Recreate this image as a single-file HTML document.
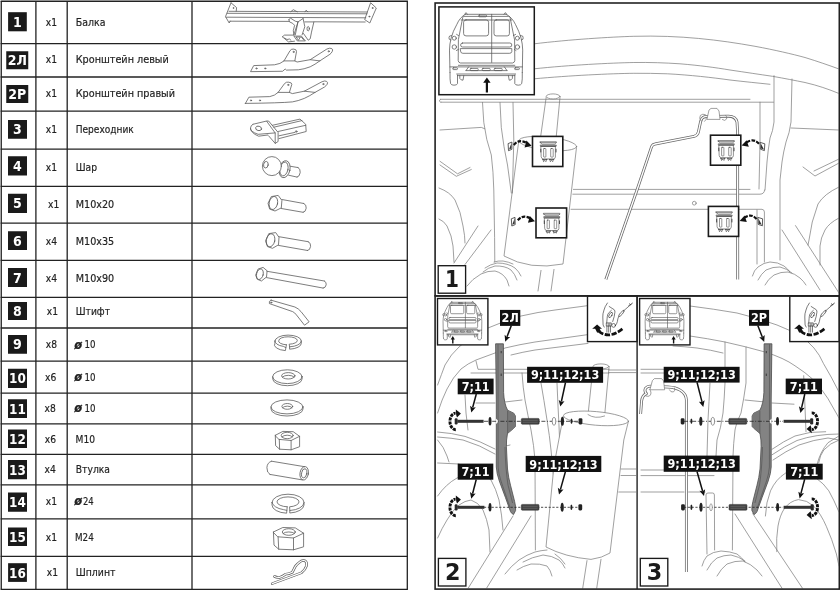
<!DOCTYPE html>
<html lang="ru"><head><meta charset="utf-8"><title>Комплектация и схема установки</title>
<style>
html,body{margin:0;padding:0;background:#fff}
svg{display:block;will-change:transform}
.tx text{font-family:"DejaVu Sans Condensed","DejaVu Sans","Liberation Sans",sans-serif;font-size:11.2px;fill:#222;stroke:#222;stroke-width:0.18px}
.tx .dia{font-family:"DejaVu Sans","Liberation Sans",sans-serif;font-weight:bold;font-style:italic;font-size:11.5px}
.bd text{font-family:"DejaVu Sans Condensed","DejaVu Sans","Liberation Sans",sans-serif;font-weight:bold;font-size:14px;fill:#fff;text-anchor:middle}
.lb text{font-family:"DejaVu Sans Condensed","DejaVu Sans","Liberation Sans",sans-serif;font-weight:bold;font-size:12.5px;fill:#fff;text-anchor:middle}
.num text{font-family:"DejaVu Sans","Liberation Sans",sans-serif;font-weight:bold;fill:#1a1a1a;text-anchor:middle}
.num text.cn{font-family:"DejaVu Sans Condensed","DejaVu Sans","Liberation Sans",sans-serif}
</style></head><body>
<svg width="840" height="591" viewBox="0 0 840 591">
<rect width="840" height="591" fill="#fff"/>
<g stroke="#222" stroke-width="1.3" fill="none" shape-rendering="auto">
<line x1="0.65" y1="1.25" x2="407.9" y2="1.25"/>
<line x1="0.65" y1="43.6" x2="407.9" y2="43.6"/>
<line x1="0.65" y1="77" x2="407.9" y2="77"/>
<line x1="0.65" y1="111.1" x2="407.9" y2="111.1"/>
<line x1="0.65" y1="149.2" x2="407.9" y2="149.2"/>
<line x1="0.65" y1="186.3" x2="407.9" y2="186.3"/>
<line x1="0.65" y1="223.1" x2="407.9" y2="223.1"/>
<line x1="0.65" y1="260.4" x2="407.9" y2="260.4"/>
<line x1="0.65" y1="297.3" x2="407.9" y2="297.3"/>
<line x1="0.65" y1="328" x2="407.9" y2="328"/>
<line x1="0.65" y1="361.2" x2="407.9" y2="361.2"/>
<line x1="0.65" y1="393.1" x2="407.9" y2="393.1"/>
<line x1="0.65" y1="423.9" x2="407.9" y2="423.9"/>
<line x1="0.65" y1="454.3" x2="407.9" y2="454.3"/>
<line x1="0.65" y1="484.8" x2="407.9" y2="484.8"/>
<line x1="0.65" y1="518.9" x2="407.9" y2="518.9"/>
<line x1="0.65" y1="556.4" x2="407.9" y2="556.4"/>
<line x1="0.65" y1="589.4" x2="407.9" y2="589.4"/>
<line x1="1.25" y1="1.25" x2="1.25" y2="589.4"/>
<line x1="35.9" y1="1.25" x2="35.9" y2="589.4"/>
<line x1="67.2" y1="1.25" x2="67.2" y2="589.4"/>
<line x1="192" y1="1.25" x2="192" y2="589.4"/>
<line x1="407.3" y1="1.25" x2="407.3" y2="589.4"/>
</g>
<g class="bd">
<rect x="8.1" y="12.2" width="18.7" height="19.1" fill="#1a1a1a"/>
<text x="17.45" y="26.85">1</text>
<rect x="6.25" y="51.25" width="22" height="18" fill="#1a1a1a"/>
<text x="17.25" y="65.35">2Л</text>
<rect x="6.25" y="85" width="22" height="18" fill="#1a1a1a"/>
<text x="17.25" y="99.1">2Р</text>
<rect x="8" y="120" width="19" height="18.75" fill="#1a1a1a"/>
<text x="17.5" y="134.475">3</text>
<rect x="8" y="156.25" width="19" height="19.25" fill="#1a1a1a"/>
<text x="17.5" y="170.975">4</text>
<rect x="8" y="193.75" width="19" height="19.25" fill="#1a1a1a"/>
<text x="17.5" y="208.475">5</text>
<rect x="8" y="231.25" width="19" height="18.75" fill="#1a1a1a"/>
<text x="17.5" y="245.725">6</text>
<rect x="8" y="268" width="19" height="19" fill="#1a1a1a"/>
<text x="17.5" y="282.6">7</text>
<rect x="8" y="302" width="19" height="18" fill="#1a1a1a"/>
<text x="17.5" y="316.1">8</text>
<rect x="8" y="335" width="19" height="18.75" fill="#1a1a1a"/>
<text x="17.5" y="349.475">9</text>
<rect x="8" y="368.75" width="19" height="19.25" fill="#1a1a1a"/>
<text x="17.5" y="383.475" textLength="16.8" lengthAdjust="spacingAndGlyphs">10</text>
<rect x="8" y="399.25" width="19" height="18.75" fill="#1a1a1a"/>
<text x="17.5" y="413.725" textLength="16.8" lengthAdjust="spacingAndGlyphs">11</text>
<rect x="8" y="429.5" width="19" height="18.5" fill="#1a1a1a"/>
<text x="17.5" y="443.85" textLength="16.8" lengthAdjust="spacingAndGlyphs">12</text>
<rect x="8" y="460" width="19" height="19.25" fill="#1a1a1a"/>
<text x="17.5" y="474.725" textLength="16.8" lengthAdjust="spacingAndGlyphs">13</text>
<rect x="8" y="492.5" width="19" height="19.25" fill="#1a1a1a"/>
<text x="17.5" y="507.225" textLength="16.8" lengthAdjust="spacingAndGlyphs">14</text>
<rect x="8" y="527.5" width="19" height="18.5" fill="#1a1a1a"/>
<text x="17.5" y="541.85" textLength="16.8" lengthAdjust="spacingAndGlyphs">15</text>
<rect x="8.1" y="563.2" width="18.8" height="18.7" fill="#1a1a1a"/>
<text x="17.5" y="577.65" textLength="16.8" lengthAdjust="spacingAndGlyphs">16</text>
</g>
<g class="tx">
<text x="45.75" y="25.75" textLength="11.25" lengthAdjust="spacingAndGlyphs">x1</text>
<text x="75.75" y="25.75" textLength="29.75" lengthAdjust="spacingAndGlyphs">Балка</text>
<text x="45.75" y="63.25" textLength="11.25" lengthAdjust="spacingAndGlyphs">x1</text>
<text x="75.75" y="63.25" textLength="93" lengthAdjust="spacingAndGlyphs">Кронштейн левый</text>
<text x="45.75" y="97" textLength="11.25" lengthAdjust="spacingAndGlyphs">x1</text>
<text x="75.75" y="97" textLength="99.25" lengthAdjust="spacingAndGlyphs">Кронштейн правый</text>
<text x="45.75" y="133.25" textLength="11.25" lengthAdjust="spacingAndGlyphs">x1</text>
<text x="75.75" y="133.25" textLength="58" lengthAdjust="spacingAndGlyphs">Переходник</text>
<text x="45.75" y="170.5" textLength="11.25" lengthAdjust="spacingAndGlyphs">x1</text>
<text x="75.75" y="170.5" textLength="21.25" lengthAdjust="spacingAndGlyphs">Шар</text>
<text x="48" y="208.25" textLength="11.25" lengthAdjust="spacingAndGlyphs">x1</text>
<text x="75.75" y="208.25" textLength="38.5" lengthAdjust="spacingAndGlyphs">M10x20</text>
<text x="45.75" y="245" textLength="11.25" lengthAdjust="spacingAndGlyphs">x4</text>
<text x="75.75" y="245" textLength="38.5" lengthAdjust="spacingAndGlyphs">M10x35</text>
<text x="45.75" y="281.75" textLength="11.25" lengthAdjust="spacingAndGlyphs">x4</text>
<text x="75.75" y="281.75" textLength="38.5" lengthAdjust="spacingAndGlyphs">M10x90</text>
<text x="46.75" y="314.8" textLength="11.25" lengthAdjust="spacingAndGlyphs">x1</text>
<text x="75.75" y="314.8" textLength="34.25" lengthAdjust="spacingAndGlyphs">Штифт</text>
<text x="45.75" y="348.3" textLength="11.25" lengthAdjust="spacingAndGlyphs">x8</text>
<text x="74.25" y="348.6" class="dia">ø</text><text x="84.5" y="348.3" textLength="11" lengthAdjust="spacingAndGlyphs">10</text>
<text x="45" y="380.7" textLength="11.25" lengthAdjust="spacingAndGlyphs">x6</text>
<text x="74.25" y="381" class="dia">ø</text><text x="84.5" y="380.7" textLength="11" lengthAdjust="spacingAndGlyphs">10</text>
<text x="44.5" y="411.9" textLength="11.25" lengthAdjust="spacingAndGlyphs">x8</text>
<text x="74.25" y="412.2" class="dia">ø</text><text x="84.5" y="411.9" textLength="11" lengthAdjust="spacingAndGlyphs">10</text>
<text x="44.8" y="442.7" textLength="11.25" lengthAdjust="spacingAndGlyphs">x6</text>
<text x="75.5" y="442.7" textLength="19.5" lengthAdjust="spacingAndGlyphs">M10</text>
<text x="44.5" y="472.5" textLength="11.25" lengthAdjust="spacingAndGlyphs">x4</text>
<text x="75.75" y="472.5" textLength="34.25" lengthAdjust="spacingAndGlyphs">Втулка</text>
<text x="45.75" y="504.75" textLength="11.25" lengthAdjust="spacingAndGlyphs">x1</text>
<text x="74.25" y="505.05" class="dia">ø</text><text x="83" y="504.75" textLength="10.75" lengthAdjust="spacingAndGlyphs">24</text>
<text x="45.75" y="541.25" textLength="11.25" lengthAdjust="spacingAndGlyphs">x1</text>
<text x="75" y="541.25" textLength="18.75" lengthAdjust="spacingAndGlyphs">M24</text>
<text x="46.75" y="576.25" textLength="11.25" lengthAdjust="spacingAndGlyphs">x1</text>
<text x="75.75" y="576.25" textLength="39.75" lengthAdjust="spacingAndGlyphs">Шплинт</text>
</g>
<!-- 10_icons.svg -->
<g id="icons" fill="none" stroke="#5c5c5c" stroke-width="0.8" stroke-linejoin="round" stroke-linecap="round">
<!-- 1 beam -->
<path d="M231 2.8 L236.6 7.6 L236.2 11.2 M231 2.8 L225.5 16.6 L229.2 23 L230.2 21.2 M229 11.3 L367.3 12 M227.3 13.3 L367 13.8 M226 17.2 L365.8 17.8 M229.8 21.2 L289 21.4 M314 21.8 L365.2 22"/>
<path d="M370.9 3 L376.3 8 L369.8 23 L365 19.8 Z"/>
<circle cx="372.5" cy="8" r="0.5"/><circle cx="369.3" cy="16.6" r="0.5"/><circle cx="233.3" cy="8" r="0.4"/>
<path d="M290.9 11.6 L293.3 9.7 L297.3 11.8 M305.1 11.8 L306.1 10.2 L307.8 11.8"/>
<path d="M288.9 19.5 L290.6 18.2 L295.3 21.2 L298 21.9 L293.9 34.8 M288.9 19.5 L289.5 21.9 L292.6 23.3 L294.6 25.3 L293.3 30.7 L293.9 34.8"/>
<path d="M298 21.9 L295.3 34.8 M303.1 18.5 L304.8 26.7 L302.1 34.8 M298 21.9 L303.1 18.5"/>
<path d="M294.3 36.1 L301.4 36.1 L305.4 40.9 L297.7 40.9 Z M296.6 37 L300.4 37 L298.6 40 Z M301.2 37 L303.8 40"/>
<path d="M304.8 21.9 L313.9 21.9 L311.5 32.1 L310.2 38.8 L308.2 40.2 L303.4 33.4"/>
<ellipse cx="308.2" cy="28.7" rx="1.2" ry="2.2"/>
<path d="M282.4 36.8 L284.5 35.1 L293.9 35.1 M282.4 36.8 L288.5 41.9 L294.5 41.2 M284.5 38 L287 39.5 L289.5 39 L291 40.3"/>
<!-- 2L bracket -->
<path d="M250.7 71.3 L253.7 65.6 L274.5 64.8 Q280.5 64 284 60.9 L290 50.7 Q291.5 48.6 293.8 49.1 Q296.8 49.4 296.5 51.6 L294.8 60.9 L297.1 62 L310.2 59.7 L326.9 49 Q330 47.6 331.8 48.6 Q333.4 49.8 332.2 51.6 Q331 53.6 329.9 54.3 L319.8 60.9 Q315 64.5 310.2 66.8 Q304 69.2 298.3 69.8 L286.4 70.1 L285.2 69 L282.9 71 Z"/>
<path d="M284 60.9 L294.8 60.9 M310.2 59.7 L319.8 60.9"/>
<circle cx="256.4" cy="68.4" r="0.6"/><circle cx="265.2" cy="68.4" r="0.6"/><circle cx="293.6" cy="51.9" r="0.6"/><circle cx="328.7" cy="51.3" r="0.6"/>
<!-- 2R bracket -->
<path d="M245.4 103.4 L248.9 97.2 L269.8 96.6 Q275 95.6 278.1 92.4 L284.6 83.5 Q286.4 81.6 288.8 82.2 Q292 82.6 291.8 84.4 L289.4 92.4 L292.4 93.6 L304.3 91.2 L322.1 81.7 Q325 80.4 326.6 81.4 Q328.2 82.6 327.2 84.2 Q326 86 324.5 87 L315 92.4 Q310 95.8 304.3 98.4 Q298 101 292.4 101.9 Q280 103 245.4 103.4 Z"/>
<path d="M278.1 92.4 L289.4 92.4 M304.3 91.2 L315 92.4"/>
<circle cx="251" cy="100.4" r="0.6"/><circle cx="260" cy="100.4" r="0.6"/><circle cx="288.2" cy="84.9" r="0.6"/><circle cx="323.3" cy="84.1" r="0.6"/>
<!-- 3 adapter -->
<path d="M252.9 124.3 L266.7 121 L268.6 121 L278.1 132.4 L278.1 141.5 L275.2 143.4 L275.2 133 L266.7 121.3 M275.2 143.4 L268.6 135.8 M275.2 132.9 L258.1 134.3 Q250 131.5 250.5 128 Q250.8 125.2 252.9 124.3 M250.5 128.6 Q250.6 132.8 258.6 136.2 L267.8 135"/>
<ellipse cx="258.6" cy="128.4" rx="3" ry="2.2" transform="rotate(15 258.6 128.4)"/>
<path d="M272.4 125.3 L300 119.1 L305.7 124.3 L306.2 131.5 L279 138.6 M273.8 127.2 L301.9 120.6 M278.1 131.5 L305.7 125.3 M279 135.8 L294.8 132.4"/>
<circle cx="296.2" cy="131.5" r="0.8"/>
<!-- 4 ball -->
<path d="M289.5 166.1 L298.1 167.6 M288.6 175.2 L297.1 177.1"/>
<path d="M298.1 167.6 Q300.6 168.6 300.2 172.6 Q299.6 176.8 297.1 177.1"/>
<ellipse cx="284.6" cy="169.2" rx="5.4" ry="8.6" transform="rotate(12 284.6 169.2)" fill="#fff"/>
<ellipse cx="284" cy="169" rx="4" ry="7" transform="rotate(12 284 169)"/>
<circle cx="271.9" cy="166.1" r="9.5" fill="#fff"/>
<ellipse cx="265.9" cy="164.7" rx="2.3" ry="3.3" transform="rotate(10 265.9 164.7)"/>
<!-- 5 bolt -->
<path d="M281.9 199.5 L303.8 203.5 M281.3 208.5 L303.2 212.3"/>
<path d="M303.8 203.5 Q306.6 204.5 306.2 208.2 Q305.6 212.2 303.2 212.3"/>
<path d="M268.2 202.9 L271.3 196.6 L278.2 195.4 L281.9 200.4 L281.3 207.9 L275 211 L270 209.2 Z"/>
<ellipse cx="273.4" cy="203" rx="4.2" ry="6.6" transform="rotate(12 273.4 203)"/>
<!-- 6 bolt -->
<path d="M279 236.7 L308.2 241.7 M278.5 245.4 L307.6 250.5"/>
<path d="M308.2 241.7 Q311 242.7 310.6 246.4 Q310 250.4 307.6 250.5"/>
<path d="M265.7 240.4 L268.8 233.6 L275.7 232.6 L279 237.3 L278.5 244.8 L272.5 248.3 L267.8 246.7 Z"/>
<ellipse cx="270.6" cy="240.3" rx="4.2" ry="6.6" transform="rotate(12 270.6 240.3)"/>
<!-- 7 bolt -->
<path d="M267.1 271.3 L324.4 281 M266.5 277.6 L323.2 288.1"/>
<path d="M324.4 281 Q326.6 282 326.2 284.8 Q325.6 288 323.2 288.1"/>
<path d="M255.8 274.7 L258 269.1 L263.1 267.4 L267.1 270.8 L266.5 277 L261.4 281 L257.5 279.3 Z"/>
<ellipse cx="259.9" cy="274.2" rx="3.3" ry="5.4" transform="rotate(14 259.9 274.2)"/>
<!-- 8 pin -->
<path d="M271.1 300.2 L294.9 307 Q298.6 308.6 301 311.6 L309.1 321.8 L304.5 325.2 L296.5 315 Q294.8 312.6 292.6 311.6 L269.4 303.6 Q268.4 301 271.1 300.2 Z"/>
<circle cx="271.2" cy="302.6" r="0.6"/>
<!-- 9 spring washer -->
<path d="M274.9 341 A13.2 5.9 0 1 1 301.3 341 A13.2 5.9 0 0 1 289.6 346.8 L289.6 349.2 A13.2 5.9 0 0 0 301.3 343.2 L301.3 341 M274.9 341 L274.9 343.2 A13.2 5.9 0 0 0 285.4 350.6 L285.9 347.6 L283.4 346.4 A13.2 5.9 0 0 1 274.9 341"/>
<path d="M285.9 347.6 L286.4 344.8 M289.6 346.8 L289.2 344.2 A9.2 3.6 0 0 0 297.3 340.4 A9.2 3.6 0 0 0 278.9 340.4 A9.2 3.6 0 0 0 286.4 344.8"/>
<!-- 10 washer -->
<ellipse cx="287.4" cy="376.7" rx="14.7" ry="6.9"/>
<path d="M272.7 376.7 L272.7 378.8 A14.7 6.9 0 0 0 302.1 378.8 L302.1 376.7"/>
<ellipse cx="288.3" cy="375.8" rx="6.7" ry="3.2"/>
<path d="M282.4 377 A6.7 3.2 0 0 1 294.2 377"/>
<!-- 11 washer -->
<ellipse cx="287" cy="406.9" rx="16" ry="7"/>
<path d="M271 406.9 L271 409 A16 7 0 0 0 303 409 L303 406.9"/>
<ellipse cx="287.3" cy="406.4" rx="5.4" ry="2.9"/>
<path d="M282.6 407.6 A5.4 2.9 0 0 1 292 407.6"/>
<!-- 12 nut -->
<path d="M275.3 435.3 L282.9 431.4 L293.2 431.7 L299.6 436.3 L291.1 440.5 L279.3 439.4 Z M275.3 435.3 L275.6 445.6 L279.6 449.2 L291.1 449.8 L299.6 446.7 L299.6 436.3 M279.3 439.4 L279.6 449.2 M291.1 440.5 L291.1 449.8"/>
<ellipse cx="287.2" cy="435.5" rx="6" ry="3.2"/>
<path d="M282 436.8 A6 3.2 0 0 1 292.4 436.8"/>
<!-- 13 sleeve -->
<path d="M271.5 461.2 L304.5 466.7 M269.9 474.4 L302.3 479.9 M271.5 461.2 Q267.2 462.5 266.9 467.6 Q266.8 473 269.9 474.4"/>
<ellipse cx="304.2" cy="473.3" rx="4.2" ry="6.8" transform="rotate(10 304.2 473.3)"/>
<ellipse cx="304.2" cy="473.3" rx="2.6" ry="4.6" transform="rotate(10 304.2 473.3)"/>
<!-- 14 spring washer -->
<path d="M272 502.4 A16 8.2 0 1 1 304 502.4 A16 8.2 0 0 1 289.8 510.5 L289.8 513 A16 8.2 0 0 0 304 505 L304 502.4 M272 502.4 L272 505 A16 8.2 0 0 0 286.6 513.2 L286.9 510.4 L283.4 509.6 A16 8.2 0 0 1 272 502.4"/>
<path d="M286.9 510.4 L287.2 506.8 M289.8 510.5 L289.6 506.8 A11 5 0 0 0 299 501.9 A11 5 0 0 0 277 501.9 A11 5 0 0 0 287.2 506.8"/>
<!-- 15 nut -->
<path d="M273.4 532 L282.8 527.5 L295.3 527.9 L303.6 533.2 L293.5 538 L278.1 536.8 Z M273.4 532 L274 545.1 L278.7 549.2 L293.5 549.8 L303.6 546.8 L303.6 533.2 M278.1 536.8 L278.7 549.2 M293.5 538 L293.5 549.8"/>
<ellipse cx="288.8" cy="532" rx="6.5" ry="3.3"/>
<path d="M283.2 533.4 A6.5 3.3 0 0 1 294.4 533.4"/>
<!-- 16 cotter pin -->
<path d="M272.2 583.6 L301.2 572.9 Q305.4 569.6 306.5 565.8 Q307.2 562 305 560.8 Q303 560 300.8 561.2 Q297.6 563.4 295.3 566.4 L292.3 572.3 Q288.6 574.2 285.5 574.2 Q282.5 576.6 279.5 577.4 Q276.5 577.6 274.5 576.5" stroke-width="2.6"/>
<path d="M272.2 583.6 L301.2 572.9 Q305.4 569.6 306.5 565.8 Q307.2 562 305 560.8 Q303 560 300.8 561.2 Q297.6 563.4 295.3 566.4 L292.3 572.3 Q288.6 574.2 285.5 574.2 Q282.5 576.6 279.5 577.4 Q276.5 577.6 274.5 576.5" stroke="#fff" stroke-width="1.2"/>
</g>

<!-- 20_defs.svg -->
<defs>
<!-- rear view of the van, drawn in panel-1 coordinates -->
<g id="van" fill="none" stroke="#555" stroke-linejoin="round" stroke-linecap="round">
<path d="M465.4 14.3 L506 14.3 M465.4 14.3 Q460 17 456.7 24.7 Q453 31 451.1 38.2 Q449.6 44 449.5 50.1 L450 72.4 M506 14.3 Q512 17 515.6 24.7 Q519 31 521.1 38.2 Q522.6 44 522.7 50.1 L522.3 72.4"/>
<path d="M464.6 14.3 L466 12.6 L467.4 14.3 M504 14.3 L505.4 12.6 L506.8 14.3"/>
<path d="M462.8 17.2 Q463 16.4 464 16.4 L508.6 16.4 Q509.8 16.4 510 17.2 L514.6 40 L514.8 60.5 Q514.6 62.6 512.6 63 L460.4 63 Q458.4 62.6 458.2 60.5 L458.4 40 Z"/>
<path d="M461.2 20 L511.6 20 M458.4 65.3 L514.8 65.3"/>
<rect x="463.6" y="19.9" width="25" height="16" rx="2.4"/>
<rect x="494" y="19.9" width="15.4" height="16" rx="2.2"/>
<path d="M491.7 14.3 L491.7 62.4"/>
<rect x="460.6" y="43" width="51.2" height="4" rx="2"/>
<path d="M460.6 48.6 L511.8 48.6 L511.8 51.5 Q511.6 53.3 509.6 53.3 L462.8 53.3 Q460.8 53.3 460.6 51.5 Z"/>
<rect x="478.6" y="15" width="8" height="1.8" rx="0.9"/>
<circle cx="454.3" cy="38.2" r="2"/><circle cx="454.3" cy="47" r="2.2"/><circle cx="517.4" cy="38.2" r="2"/><circle cx="517.4" cy="47" r="2.2"/>
<path d="M451.6 35.6 L449.6 36 Q448.6 37.4 449.2 39.2 L450.8 40 M520.4 35.6 L522.6 36 Q523.4 37.4 523 39.2 L521.4 40"/>
<path d="M456.6 34.4 L458.6 35.6 M515.6 34.4 L513.4 35.6 M456.4 50.5 L458.4 49.4 M516 50.5 L514.4 49.4"/>
<path d="M450 66.9 L522.3 66.9 M456.7 74 L515.6 74 M457.4 75.6 L514.8 75.6"/>
<rect x="452.7" y="67.8" width="4.8" height="1.8" rx="0.9"/><rect x="514.6" y="67.8" width="4.8" height="1.8" rx="0.9"/>
<path d="M466 70.6 L468.6 66.9 M507 70.6 L504.4 66.9 M466 70.6 L507 70.6"/>
<rect x="470.2" y="68.4" width="8" height="2.2" rx="0.8"/><rect x="482.2" y="68.4" width="8" height="2.2" rx="0.8"/><rect x="494.2" y="68.4" width="8" height="2.2" rx="0.8"/>
<path d="M450 72.4 Q449.8 80 450.6 83.6 Q451.4 85.2 454 85.2 Q457 85.2 457.5 83.6 L457.5 75 M522.3 72.4 Q522.5 80 521.7 83.6 Q520.9 85.2 518.3 85.2 Q515.3 85.2 514.8 83.6 L514.8 75"/>
<path d="M459.8 75.6 L459.8 78.4 Q461 80.4 463 80.2 L463.8 75.6 M512.4 75.6 L512.4 78.4 Q511.2 80.4 509.2 80.2 L508.4 75.6"/>
</g>
<path id="vanarrow" d="M485.8 92.6 L485.8 82.8 L483.2 82.8 L486.9 77.6 L490.6 82.8 L488 82.8 L488 92.6 Z" fill="#111"/>
<!-- plastic clip drawn inside each 30x30 box, origin at box top-left -->
<g id="clip" fill="none" stroke="#3a3a3a" stroke-width="0.55" stroke-linecap="round" stroke-linejoin="round">
<path d="M7.8 5.3 L23.8 5.3 L23.8 6.2 L7.8 6.2 Z M7.8 6.2 L9.9 7.7 L22.3 7.7 L23.8 6.2"/>
<path d="M8.1 8.6 L23.8 8.6 L23.6 10 L8.3 10 Z" fill="#aaa"/>
<path d="M8.7 10 L22.9 10 L22.9 20.6 Q22.7 22.5 20.8 22.5 L10.8 22.5 Q8.9 22.5 8.7 20.6 Z"/>
<rect x="11.1" y="12.1" width="2.3" height="8.6" rx="0.5"/><rect x="18.2" y="12.1" width="2.5" height="8.6" rx="0.5"/>
<path d="M8.3 12.8 L8.3 15.6 M23.5 12.8 L23.5 15.6" stroke-width="0.9"/>
<path d="M10 23.1 L14.6 23.1 M10.6 23.1 L11 25.2 L12.3 24.1 L13.4 25.2 L14 23.1 M16.8 23.1 L21.4 23.1 M17.4 23.1 L17.8 25.2 L19.1 24.1 L20.2 25.2 L20.8 23.1" stroke-width="0.7"/>
</g>
<!-- bolt rotation arrow (panel 2 orientation, row y=421.3) -->
<g id="rot">
<path d="M455.8 429.7 A5.7 8.2 0 0 1 455.6 413.1" fill="none" stroke="#111" stroke-width="2.9" stroke-dasharray="3.1 0.9"/>
<path d="M455.8 409.4 L460.9 413.5 L457 417.4 L456.2 415 Z" fill="#111"/>
</g>
<!-- hand icon (panel 2 position) -->
<g id="hand">
<g fill="none" stroke="#333" stroke-width="0.65" stroke-linecap="round" stroke-linejoin="round">
<path d="M607.4 303 Q604.6 307 604 310 Q602.6 314 602.8 317 L603.1 325 L604.2 327.1"/>
<path d="M609.2 306.5 L614.2 309.7 Q615.2 311 614.9 312.2 L614.2 316.5 L612.7 321.5"/>
<path d="M611.3 310.4 Q608.6 312.6 607.8 314.3 Q607.2 316.4 607.1 318.6 L606.7 322.9"/>
<ellipse cx="610.6" cy="315" rx="1.3" ry="3" transform="rotate(30 610.6 315)"/>
<path d="M606.7 322.9 L611.3 322.9 L611.3 326.1 L606.7 326.1 Z M608.2 323.6 L608.2 325.6 M609.8 323.6 L609.8 325.6 M606.9 326.1 L606.9 332.2 M608.7 326.1 L608.7 332.2 M610.5 326.1 L610.5 332.2"/>
<circle cx="613.6" cy="325.4" r="1.9" fill="#fff"/>
<path d="M632.6 303 L624.1 310.4 M629.4 303.7 L630.6 304.8 M628.7 305.6 L631.4 304"/>
<ellipse cx="621.4" cy="313.5" rx="3.9" ry="1.1" transform="rotate(-49 621.4 313.5)"/>
<path d="M618.6 316.6 Q617.6 319 617.4 321.5 Q616.8 324 615.4 325.6"/>
</g>
<path d="M622.4 328.9 Q608.8 339.6 598.8 331.2" fill="none" stroke="#111" stroke-width="2.7" stroke-dasharray="5.3 1.6"/>
<path d="M592.2 328.7 L597.1 324.5 L602 328.7 L599.6 328.7 L600.8 331 L597.2 332.8 L595.2 328.7 Z" fill="#111"/>
</g>
</defs>

<!-- 25_art1.svg -->
<clipPath id="cp1"><rect x="435.8" y="3.7" width="402.8" height="291.5"/></clipPath>
<g id="art1" clip-path="url(#cp1)" fill="none" stroke="#777" stroke-width="0.7" stroke-linecap="round" stroke-linejoin="round">
<!-- body arcs -->
<path d="M534.3 43.8 C570 39.5 610 37 633.8 36.3 C680 35 720 40 755 46.3 C775 50 792 54 805 57.5 C818 61.5 828 65 839 69"/>
<path d="M534.3 68.8 C570 65 610 63 633.8 62.5 C650 62.3 665 62.8 680 63.8 C700 65.5 715 67.5 730 70 C745 72.2 760 74.5 772.5 76.3 C785 78.5 795 80.5 805 82.5 C818 85.5 828 89 839 93.5"/>
<path d="M534.3 78.8 C570 75.5 610 73.6 633.8 73.3 C645 73.2 656 73.4 667.5 73.8 C690 75 712 77.5 730 80 C745 81.8 758 83 770 84.3"/>
<!-- floor edge double line -->
<path d="M440.5 99.3 L750 99.3 M441 102.2 L773.5 102.2 M440.5 99.3 Q439 100 439.6 101.4 Q440.2 102.4 441 102.2"/>
<!-- tail pipe -->
<path d="M546.2 97.2 L540.6 137 M560 97.2 L556.2 137"/>
<ellipse cx="553.1" cy="96.4" rx="6.9" ry="2.5" fill="#fff"/>
<!-- muffler -->
<path d="M518.8 140.5 L504 256 Q530 270.5 563 264 L576.6 146.6" fill="#fff"/>
<ellipse cx="547.8" cy="143.6" rx="29" ry="6.6" transform="rotate(6 547.8 143.6)" fill="#fff"/>
<path d="M541 270.4 L538 291 M554 269.4 L551 291"/>
<!-- left rail -->
<path d="M482.5 102.5 L483.8 122.5 Q486 140 491.3 155 Q493.4 172 493.8 190 L494.6 237.5 L494.8 262"/>
<path d="M500 102.5 L501.3 127.5 Q503.6 147 507.5 165 L511.3 193"/>
<path d="M513 102.5 L513.8 140 L512.4 193"/>
<path d="M440 130 L481.3 127.4 L484.8 128.8"/>
<path d="M440 161.3 L457.5 173.8 L470 167.5 M440 165 L456.3 176.3 L471.3 169.5"/>
<path d="M439 188 Q450 192 455 200 Q461 212 463 226 Q465 236 465 243"/>
<path d="M439 219 Q444 221 447 226 Q452 236 453 246 L454 262"/>
<path d="M454 263 L478 226 M465 264.5 L491 230"/>
<path d="M467 286 Q472 279 481 274 Q488 270.6 495 271 Q503 273 507 280 L509 286"/>
<path d="M483 272 Q488 267.6 495 266 Q505 265.6 511 270 Q515 274 517 280"/>
<path d="M485 268 Q490 264.4 497 263 Q508 263 515 268 Q519 271.6 521 276"/>
<path d="M494 262 Q498 260.6 503 261 Q509 262 513 264"/>
<!-- cross member -->
<path d="M573.4 189.4 L750 189.4 M572.8 194.2 L760 194.2 Q764.4 194 764.6 190 M571 209.3 L762 209.3 Q764.4 209.6 764.4 212 L764.4 262"/>
<circle cx="694.3" cy="203.2" r="1.9"/>
<!-- brake tube -->
<defs><path id="tube1" d="M605.8 279.6 L637 190 L651.6 146.6 Q652.6 144.4 655 144 L694 136.4 Q697.6 135.4 698.4 132 L700.6 121.6 Q701.4 117.6 705 116.6 L728 116.2 Q735.6 116 737 122 L737.6 132 L737.7 279.5"/></defs>
<use href="#tube1" stroke="#6a6a6a" stroke-width="2.9" stroke-linecap="butt"/>
<use href="#tube1" stroke="#fff" stroke-width="1.35" stroke-linecap="square"/>
<path d="M701 121 Q698.6 118 700.4 115.4 Q702.6 113.4 705.4 114.6 M704.6 121.4 Q706.8 120 706.2 117.2 M722.4 119.6 Q725 121.6 726.6 119 Q727.4 116.6 725.6 115.2"/>
<path d="M707 119 L709 110 L711 108.4 L717 108.4 L719 111 L720 119 Z" fill="#fff"/>
<!-- right rail -->
<path d="M774 75.6 L774 122 Q773 131 770 138 Q768 150 767 162 L765 190"/>
<path d="M792 79 L791 122 Q789.6 133 786 142 Q783.4 152 782 162 L780 180 L780 260"/>
<path d="M760 102.2 L760 142 L759 189"/>
<path d="M791 128 L839 130"/>
<path d="M757 210 L757 264"/>
<path d="M782 230 L820 290 M795.5 225.6 L839 293"/>
<path d="M839 187 Q824 194 818 204 Q811 222 809 240 L808 245"/>
<path d="M839 218 Q829 223 825 230 Q820.6 238 820 246 L820 265"/>
<path d="M803 167 L815 176 L839 163 M814 171 L839 159"/>
<path d="M752.4 276 Q754 270 758 267 Q764 262.4 770 262 Q778 262 784 266 Q788 269 790 272"/>
<path d="M758 280 Q761 274 766 270 Q773 266.6 780 267 Q787 268.6 792 273"/>
<path d="M765 285 Q768 279 774 275 Q781 271.6 788 272 Q795 273.6 800 278 Q804 281.6 806 285"/>
</g>

<!-- 26_art2.svg -->
<clipPath id="cp2"><rect x="435.8" y="296.6" width="200.6" height="291.8"/></clipPath>
<g id="art2" clip-path="url(#cp2)" fill="none" stroke="#777" stroke-width="0.7" stroke-linecap="round" stroke-linejoin="round">
<!-- big body arcs -->
<path d="M437.6 385 Q441.6 374 445 365 Q451 354 459 347 Q472 335 488 328 Q504 321 521 316 Q538 312 555 310 L588 305.6"/>
<path d="M437.6 413 Q442 399 447 389 Q453 377 461 369 Q468 363.4 476 360 L495 353 L505 348 Q520 344.4 535 342 L588 334.6"/>
<path d="M511 355 Q523 352 535 350 L588 343.4"/>
<!-- cross lines -->
<path d="M476 361 L478 369.3 L609 369.3 M471 373 L609 373 M609 370 L636 370 M609 372.6 L636 372.6"/>
<path d="M465 395 L466 413 L468 430"/>
<path d="M476 403 L495 403 M505 402 L522 400"/>
<path d="M437.6 432 Q452 433 465 436.4 Q480 441 495 449"/>
<path d="M437.6 437 Q452 438 463 440 Q480 445 495 454"/>
<path d="M437.6 440 Q444 447 447 456 L449 462"/>
<path d="M437.6 463 L459 464"/>
<path d="M506 446 L510 445"/>
<!-- rail curves right of bracket -->
<path d="M522 373 Q523 388 525 400 Q528 416 531 430 Q534 446 535 460 L535.4 550"/>
<path d="M541 383 Q544 400 547 420 Q549.6 436 551 450 Q553.6 474 555 498"/>
<path d="M557 383 L558 406 Q559 424 559.6 440 L560 452"/>
<!-- tail pipe and muffler -->
<path d="M593 367.4 L588 415 M609 367.4 L604.6 416"/>
<ellipse cx="601" cy="366.4" rx="8" ry="2.5" fill="#fff"/>
<path d="M563.2 416.6 L554 465.4 L546 547 Q565 557 591 559.4 Q602 558 610 553 L623.8 440 L628.4 421.4" fill="#fff"/>
<ellipse cx="596" cy="418.4" rx="32.6" ry="6.8" transform="rotate(5 596 418.4)" fill="#fff"/>
<path d="M588 414.6 Q595 419.4 604.6 416" />
<path d="M587 560.6 L582.6 589 M601 559.3 L596.6 589"/>
<path d="M621 469 L636 469 M621 475.5 L636 475.5 M618.7 492 L636 492"/>
<!-- wheel arch -->
<path d="M437.6 496 Q446 484 457 478 Q468 472.6 479 473.6 Q487 475 491 480 Q496 489 499 500 Q502 515 503 530"/>
<path d="M437.6 538 Q442 528 447 520 Q452 511 459 505 Q465 500.6 471 500 Q478 502 483 510 Q487 519 489 530 L490 552"/>
<path d="M468.3 588 L513 516 M486.7 588 L531 516"/>
<!-- axle arcs -->
<path d="M505 574 Q511 566 519 560 Q527 554.6 535 552 Q541 550.4 547 550"/>
<path d="M523 562 Q532 557 543 555 Q552 555.6 559 560 Q563 563.6 565 568"/>
<path d="M517 570 Q523 566 531 564 Q540 563.4 547 566 Q550.6 570 552 576"/>
<path d="M555 554 Q561 558 565 564"/>
</g>

<!-- 27_art3.svg -->
<clipPath id="cp3"><rect x="637.8" y="296.6" width="200.8" height="291.8"/></clipPath>
<g id="art3" clip-path="url(#cp3)" fill="none" stroke="#777" stroke-width="0.7" stroke-linecap="round" stroke-linejoin="round">
<path d="M690 306 Q714 309 737 313 Q758 318 777 325 Q790 330 800 336 Q816 346 823.5 363.6 Q831 376 839 392"/>
<path d="M690 336 Q708 338.6 725 342 Q746 346.6 765 352 Q784 358 795 365.8 Q806 373 812.5 379 Q822 389 828 398.7 L839 418"/>
<path d="M673 346 Q685 346.6 697 348 Q711 350 723 353"/>
<path d="M725 342 L725 383 Q724.4 398 723 413 Q721 428 717 440 L716 456"/>
<path d="M746 347 L746 383 Q744 398 741 413 Q736 424 735 430 Q733.4 444 733 456 L732.4 550"/>
<path d="M710 383 Q709 402 708 420 L707 456"/>
<path d="M745 400 L765 402 M772 403 L794 404.2 M803.7 375.7 L806 431.7"/>
<path d="M641 369.3 L664 369.3 M641 373 L664 373"/>
<path d="M641 470 L664 470 M641 475.6 L714 475.6 M641 492 L684 492 M688.6 492 L705 492"/>
<path d="M707 554 L706 495 Q706 493 708 493 L712.6 493 Q714.4 493 714.4 495 L714.6 550"/>
<!-- brake tube and connector -->
<defs><path id="tube3" d="M640.6 414 L641.6 401 Q642.2 395.4 646.4 393.6 Q644 391 645.6 388.2 Q648 385.4 652 386.4 L668 387 Q676 387.4 680.6 390.4 Q686 393.6 686.4 400 L686.4 572"/></defs>
<use href="#tube3" stroke="#6a6a6a" stroke-width="2.9" stroke-linecap="butt"/>
<use href="#tube3" stroke="#fff" stroke-width="1.35" stroke-linecap="square"/>
<path d="M650 389.4 L652.4 380.6 L654.4 378.6 L661.6 378.6 L663.6 381 L664.6 389.4 Z" fill="#fff"/>
<path d="M646 396 Q650.4 397.6 651 393 Q651 390.4 649.4 389.4 M669.4 389.8 Q670.6 392.6 673.4 392 Q675.6 390.6 674.6 388"/>
<!-- wheel arch right -->
<path d="M772 449.3 Q784 441 795 436 Q810 431 825.7 431.7"/>
<path d="M772 454.8 Q785 446 797 440.5 Q816 434 839 434"/>
<path d="M773 460 Q786 451 799 445 Q814 439.6 828 438 L839 440"/>
<path d="M817 464.7 Q820 452 828 442.7 L839 436"/>
<path d="M765.4 516 Q766 502 770.5 490.8 Q776 479 785.7 473 Q800 468.6 816 478 Q824 483.6 828.8 490.8 Q834 500 839 512"/>
<path d="M776.8 551.7 Q776 538 778 526 Q780 515 784.4 508.5 Q790 501 798.4 499.6 Q807 500 813.6 506 Q821 514 826.3 526.3 Q832 539 836.4 554 L839 566"/>
<path d="M818.7 462.8 Q820 455 823.8 450 Q830 443 839 440"/>
<path d="M735 514 L782.5 589 M752.7 513.6 L803 589"/>
<!-- axle arcs -->
<path d="M702 566 Q703.6 560 707 556 Q713 551.6 721 551 Q730 551.4 737 554 Q742 557.6 745 562"/>
<path d="M707 570 Q711 562 717 558 Q724 555 731 555 Q739 556.6 745 561"/>
<path d="M717 576 Q721 568.6 727 564 Q735 560.6 743 561 Q751 564 757 570 L762 576"/>
</g>

<!-- 40_over1.svg -->
<!-- panel 1 overlays -->
<g id="over1">
<rect x="438.9" y="6.9" width="95.4" height="87.8" fill="#fff" stroke="#1a1a1a" stroke-width="1.5"/>
<use href="#van" stroke-width="0.75"/><use href="#vanarrow"/>
<g fill="#fff" stroke="#1a1a1a" stroke-width="1.6">
<rect x="532.5" y="136.4" width="30.3" height="30.1"/>
<rect x="536" y="208" width="30.6" height="29.8"/>
<rect x="710.5" y="135.2" width="30.3" height="30"/>
<rect x="708.4" y="206.4" width="30.2" height="30"/>
</g>
<use href="#clip" x="532.5" y="136.4"/><use href="#clip" x="536" y="208"/><use href="#clip" x="710.5" y="135.2"/><use href="#clip" x="708.4" y="206.4"/>
<!-- small clip marks on the body -->
<g fill="#fff" stroke="#333" stroke-width="0.8" stroke-linejoin="round">
<path d="M508.1 143.6 L511.9 142.1 L511.9 149.3 L508.5 150.7 Z"/>
<path d="M511.3 218.8 L515 217.4 L515.2 224.6 L511.8 226 Z"/>
<path d="M760.2 142.4 L764.8 143.8 L764.4 150.6 L760.4 149.2 Z"/>
<path d="M757.8 217.4 L762.6 218.8 L762.4 225.8 L758.2 224.4 Z"/>
</g>
<g fill="#333">
<path d="M509 149.6 L511.4 143.2 L511.4 148.6 Z"/><path d="M512.2 224.8 L514.6 218.6 L514.7 223.8 Z"/>
<path d="M760.8 143.4 L764 149.6 L760.9 148.6 Z"/><path d="M758.4 218.4 L761.8 224.8 L758.6 223.8 Z"/>
</g>
<g fill="none" stroke="#111" stroke-width="2.2" stroke-dasharray="3.6 1.3">
<path d="M513.8 145 Q517.4 140.4 522.4 141.3 Q525 141.8 527 143.2"/>
<path d="M517.8 220.2 Q521.4 216 526 216.8 Q528.4 217.2 530.4 218.6"/>
<path d="M759 143.8 Q755.4 139.6 750.6 140.6 Q748 141.2 746.4 142.8"/>
<path d="M756.6 219 Q753 214.8 748.4 215.8 Q746 216.4 744.4 218"/>
</g>
<g fill="#111">
<path d="M531.6 145.7 L524.6 147.4 L526.4 140.6 Z"/>
<path d="M535 221.2 L528 222.8 L529.8 216 Z"/>
<path d="M741.6 145.6 L748.8 146.8 L746.6 140.2 Z"/>
<path d="M739.6 221 L746.8 222 L744.6 215.4 Z"/>
</g>
<rect x="438.2" y="265.7" width="27.4" height="27.5" fill="#fff" stroke="#1a1a1a" stroke-width="1.35"/>
<g class="num"><text x="452.1" y="287.3" font-size="22.3" class="cn">1</text></g>
</g>

<!-- 50_over23.svg -->
<g id="over23">
<rect x="437.5" y="298.5" width="50.4" height="46.4" fill="#fff" stroke="#1a1a1a" stroke-width="1.4"/>
<rect x="639.6" y="298.5" width="50.4" height="46.4" fill="#fff" stroke="#1a1a1a" stroke-width="1.4"/>
<use href="#van" transform="translate(204.8,294.7) scale(0.53)" stroke-width="1.15"/>
<use href="#van" transform="translate(406.9,294.7) scale(0.53)" stroke-width="1.15"/>
<path d="M452.1 343.6 L452.1 339.4 L450.7 339.4 L452.8 336 L454.9 339.4 L453.5 339.4 L453.5 343.6 Z" fill="#111"/>
<path d="M672.9 343.6 L672.9 339.4 L671.5 339.4 L673.6 336 L675.7 339.4 L674.3 339.4 L674.3 343.6 Z" fill="#111"/>
<rect x="587.5" y="295.9" width="49.6" height="45.7" fill="#fff" stroke="#1a1a1a" stroke-width="1.4"/>
<rect x="789.8" y="295.9" width="49.5" height="45.7" fill="#fff" stroke="#1a1a1a" stroke-width="1.4"/>
<use href="#hand"/><use href="#hand" x="202"/>
<g>
<path d="M495.6 343.8 L503.4 343.8 L503.6 392.5 Q504.2 404 507.6 410.2 L513.8 413.2 L515.4 416 L515.4 426.4 L513.4 428.6 L507.5 433.5 Q506.2 440 506.4 446.7 L507.5 469 Q508.5 478 510.5 485.2 L514.6 501.4 Q516 507 515.6 510.5 L513.5 514.6 Q511.4 513.4 510.5 511.6 L505.4 497.4 L499.3 481 Q496.5 473 496.3 467 L496.3 400 Z" fill="#838383" stroke="#4a4a4a" stroke-width="0.8" stroke-linejoin="round"/>
<path d="M507.6 410.2 L513.8 413.2 L515.4 416 L515.4 426.4 L513.4 428.6 L507.6 433.6 Z" fill="#777"/>
<path d="M498 344.2 L498.1 467 Q498.6 474 501 481 L510.2 508 M507.6 410.6 L507.6 433.6 M505 447 Q505.6 470 508 485 L512.6 503" fill="none" stroke="#555" stroke-width="0.7"/>
<path d="M495.9 418.4 L498.6 421.3 L495.9 424.2 Z" fill="#fff"/>
<path d="M501.2 351 L501.2 353.2 M501.2 373.6 L501.2 376" stroke="#333" stroke-width="0.9"/>
</g>
<g transform="translate(1267.5,0) scale(-1,1)">
<path d="M495.6 343.8 L503.4 343.8 L503.6 392.5 Q504.2 404 507.6 410.2 L513.8 413.2 L515.4 416 L515.4 426.4 L513.4 428.6 L507.5 433.5 Q506.2 440 506.4 446.7 L507.5 469 Q508.5 478 510.5 485.2 L514.6 501.4 Q516 507 515.6 510.5 L513.5 514.6 Q511.4 513.4 510.5 511.6 L505.4 497.4 L499.3 481 Q496.5 473 496.3 467 L496.3 400 Z" fill="#838383" stroke="#4a4a4a" stroke-width="0.8" stroke-linejoin="round"/>
<path d="M507.6 410.2 L513.8 413.2 L515.4 416 L515.4 426.4 L513.4 428.6 L507.6 433.6 Z" fill="#777"/>
<path d="M498 344.2 L498.1 467 Q498.6 474 501 481 L510.2 508 M507.6 410.6 L507.6 433.6 M505 447 Q505.6 470 508 485 L512.6 503" fill="none" stroke="#555" stroke-width="0.7"/>
<path d="M495.9 418.4 L498.6 421.3 L495.9 424.2 Z" fill="#fff"/>
<path d="M501.2 351 L501.2 353.2 M501.2 373.6 L501.2 376" stroke="#333" stroke-width="0.9"/>
</g>
<line x1="484" y1="421.3" x2="582" y2="421.3" stroke="#222" stroke-width="0.8" stroke-dasharray="4 1.6 1 1.6"/>
<rect x="457.3" y="419.8" width="26.3" height="3" fill="#333"/>
<rect x="454.7" y="418.2" width="2.9" height="6.2" rx="1.2" fill="#2a2a2a"/>
<ellipse cx="490" cy="421.3" rx="1.5" ry="4.3" fill="#222"/>
<rect x="521.3" y="418.4" width="17.9" height="5.8" rx="1" fill="#444" stroke="#2a2a2a" stroke-width="0.5"/>
<path d="M522.8 420.4 L537.7 420.4 M522.8 422.3 L537.7 422.3" stroke="#777" stroke-width="0.5"/>
<ellipse cx="554" cy="421.3" rx="1.8" ry="4" fill="#fff" stroke="#666" stroke-width="0.7"/>
<ellipse cx="562.4" cy="421.3" rx="1.6" ry="4.5" fill="#222"/>
<ellipse cx="571.5" cy="421.3" rx="1" ry="2.8" fill="#222"/>
<rect x="578.6" y="418.2" width="3.8" height="6.2" rx="1.3" fill="#222"/>
<line x1="484" y1="507.3" x2="582" y2="507.3" stroke="#222" stroke-width="0.8" stroke-dasharray="2.2 1.6"/>
<rect x="457.3" y="505.8" width="27.1" height="3" fill="#333"/>
<rect x="454.7" y="504.2" width="2.9" height="6.2" rx="1.2" fill="#2a2a2a"/>
<ellipse cx="490" cy="507.3" rx="1.5" ry="4.3" fill="#222"/>
<rect x="521.3" y="504.4" width="17.7" height="5.8" rx="1" fill="#444" stroke="#2a2a2a" stroke-width="0.5"/>
<path d="M522.8 506.4 L537.5 506.4 M522.8 508.3 L537.5 508.3" stroke="#777" stroke-width="0.5"/>
<ellipse cx="562.2" cy="507.3" rx="1.6" ry="4.5" fill="#222"/>
<ellipse cx="571.4" cy="507.3" rx="1" ry="2.8" fill="#222"/>
<rect x="578.4" y="504.2" width="3.8" height="6.2" rx="1.3" fill="#222"/>
<line x1="684" y1="421.3" x2="783" y2="421.3" stroke="#222" stroke-width="0.8" stroke-dasharray="4 1.6 1 1.6"/>
<rect x="783.6" y="419.8" width="26.8" height="3" fill="#333"/>
<rect x="810.1" y="418.2" width="3.1" height="6.2" rx="1.2" fill="#2a2a2a"/>
<ellipse cx="777.5" cy="421.3" rx="1.5" ry="4.3" fill="#222"/>
<rect x="728.8" y="418.4" width="18" height="5.8" rx="1" fill="#444" stroke="#2a2a2a" stroke-width="0.5"/>
<path d="M730.3 420.4 L745.3 420.4 M730.3 422.3 L745.3 422.3" stroke="#777" stroke-width="0.5"/>
<ellipse cx="712.8" cy="421.3" rx="1.8" ry="4" fill="#fff" stroke="#666" stroke-width="0.7"/>
<ellipse cx="700.8" cy="421.3" rx="1.6" ry="4.5" fill="#222"/>
<ellipse cx="691.4" cy="421.3" rx="1" ry="2.8" fill="#222"/>
<rect x="680.7" y="418.2" width="3.8" height="6.2" rx="1.3" fill="#222"/>
<line x1="684" y1="507.3" x2="783" y2="507.3" stroke="#222" stroke-width="0.8" stroke-dasharray="2.2 1.6"/>
<rect x="783.6" y="505.8" width="27.4" height="3" fill="#333"/>
<rect x="810.7" y="504.2" width="3.1" height="6.2" rx="1.2" fill="#2a2a2a"/>
<ellipse cx="777.6" cy="507.3" rx="1.5" ry="4.3" fill="#222"/>
<rect x="729" y="504.4" width="18" height="5.8" rx="1" fill="#444" stroke="#2a2a2a" stroke-width="0.5"/>
<path d="M730.5 506.4 L745.5 506.4 M730.5 508.3 L745.5 508.3" stroke="#777" stroke-width="0.5"/>
<ellipse cx="701" cy="507.3" rx="1.6" ry="4.5" fill="#222"/>
<ellipse cx="691.4" cy="507.3" rx="1" ry="2.8" fill="#222"/>
<rect x="681.1" y="504.2" width="3.8" height="6.2" rx="1.3" fill="#222"/>
<ellipse cx="711" cy="507.3" rx="1.3" ry="3.6" fill="#fff" stroke="#666" stroke-width="0.6"/>
<use href="#rot"/><use href="#rot" y="86"/>
<use href="#rot" transform="rotate(180 633.75 421.3)"/><use href="#rot" transform="translate(0,86) rotate(180 633.75 421.3)"/>
<g class="lb">
<rect x="500" y="309.9" width="20.3" height="16" fill="#111"/>
<text x="510.15" y="322.45">2Л</text>
<rect x="457.7" y="378.6" width="35.9" height="15.7" fill="#111"/>
<text x="475.65" y="391">7;11</text>
<rect x="527.1" y="366.8" width="76" height="16" fill="#111"/>
<text x="565.1" y="379.35">9;11;12;13</text>
<rect x="525.7" y="455.9" width="75.6" height="16.1" fill="#111"/>
<text x="563.5" y="468.5">9;11;12;13</text>
<rect x="457.7" y="463.6" width="35.6" height="16.1" fill="#111"/>
<text x="475.5" y="476.2">7;11</text>
<rect x="749" y="309.9" width="20.1" height="15.9" fill="#111"/>
<text x="759.05" y="322.4">2Р</text>
<rect x="663.7" y="366.8" width="75.9" height="15.8" fill="#111"/>
<text x="701.65" y="379.25">9;11;12;13</text>
<rect x="785.7" y="378.6" width="36.3" height="15.6" fill="#111"/>
<text x="803.85" y="390.95">7;11</text>
<rect x="663.7" y="455.6" width="75.9" height="16.2" fill="#111"/>
<text x="701.65" y="468.25">9;11;12;13</text>
<rect x="785.9" y="463.7" width="36.8" height="15.9" fill="#111"/>
<text x="804.3" y="476.2">7;11</text>
</g>
<line x1="511.30" y1="325.50" x2="507.03" y2="336.83" stroke="#111" stroke-width="1.5"/>
<path d="M505.20 341.70 L504.62 334.86 L506.96 337.02 L510.15 336.94 Z" fill="#111"/>
<line x1="476.30" y1="394.00" x2="472.66" y2="407.48" stroke="#111" stroke-width="1.5"/>
<path d="M471.30 412.50 L470.07 405.75 L472.60 407.67 L475.77 407.28 Z" fill="#111"/>
<line x1="565.50" y1="382.50" x2="561.40" y2="401.52" stroke="#111" stroke-width="1.5"/>
<path d="M560.30 406.60 L558.72 399.92 L561.35 401.71 L564.49 401.16 Z" fill="#111"/>
<line x1="565.40" y1="471.70" x2="560.40" y2="489.59" stroke="#111" stroke-width="1.5"/>
<path d="M559.00 494.60 L557.83 487.83 L560.35 489.78 L563.51 489.42 Z" fill="#111"/>
<line x1="476.25" y1="479.50" x2="472.56" y2="493.72" stroke="#111" stroke-width="1.5"/>
<path d="M471.25 498.75 L469.95 492.01 L472.51 493.91 L475.66 493.49 Z" fill="#111"/>
<line x1="757.80" y1="325.50" x2="762.31" y2="337.06" stroke="#111" stroke-width="1.5"/>
<path d="M764.20 341.90 L759.20 337.20 L762.38 337.24 L764.69 335.05 Z" fill="#111"/>
<line x1="697.00" y1="382.30" x2="702.01" y2="401.86" stroke="#111" stroke-width="1.5"/>
<path d="M703.30 406.90 L698.90 401.63 L702.06 402.06 L704.62 400.16 Z" fill="#111"/>
<line x1="804.80" y1="394.00" x2="801.57" y2="407.93" stroke="#111" stroke-width="1.5"/>
<path d="M800.40 413.00 L798.92 406.29 L801.53 408.13 L804.67 407.63 Z" fill="#111"/>
<line x1="697.00" y1="471.50" x2="702.57" y2="491.00" stroke="#111" stroke-width="1.5"/>
<path d="M704.00 496.00 L699.46 490.85 L702.63 491.19 L705.13 489.23 Z" fill="#111"/>
<line x1="804.70" y1="479.30" x2="800.94" y2="493.38" stroke="#111" stroke-width="1.5"/>
<path d="M799.60 498.40 L798.35 491.65 L800.89 493.57 L804.05 493.17 Z" fill="#111"/>
<rect x="438.4" y="558.4" width="27.5" height="27.6" fill="#fff" stroke="#1a1a1a" stroke-width="1.35"/>
<rect x="640.3" y="558.4" width="27.5" height="27.6" fill="#fff" stroke="#1a1a1a" stroke-width="1.35"/>
<g class="num"><text x="452.7" y="579.9" font-size="22.3">2</text><text x="654.6" y="579.9" font-size="22.3">3</text></g>
</g>

<!-- 90_frames.svg -->
<!-- panel frames -->
<g fill="none" stroke="#222" stroke-width="1.6">
<rect x="435.1" y="3" width="404.2" height="292.9"/>
<rect x="435.1" y="295.9" width="404.2" height="293.2"/>
<line x1="637.1" y1="295.9" x2="637.1" y2="589.1" stroke-width="1.4"/>
</g>

</svg>
</body></html>
